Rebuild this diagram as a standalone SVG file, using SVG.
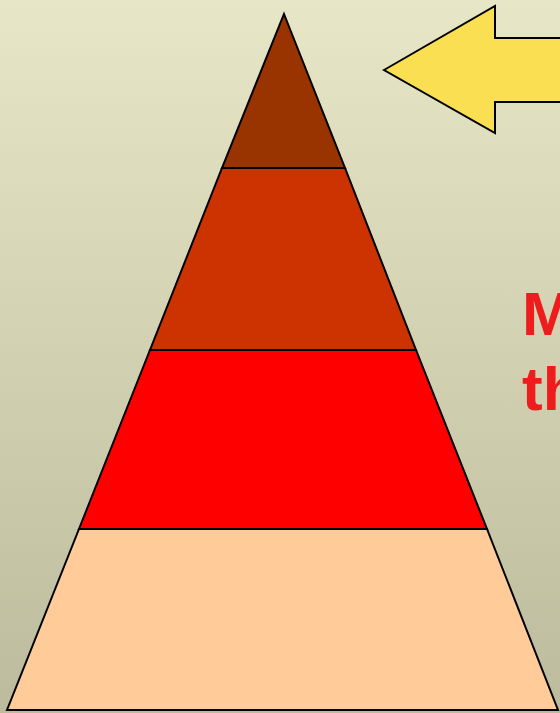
<svg xmlns="http://www.w3.org/2000/svg" width="560" height="713" viewBox="0 0 560 713">
  <defs>
    <linearGradient id="bg" x1="0" y1="0" x2="0" y2="1">
      <stop offset="0" stop-color="#e7e6c6"/>
      <stop offset="1" stop-color="#bcbb9d"/>
    </linearGradient>
  </defs>
  <style>
    .layer { stroke: #000; stroke-width: 2; stroke-linejoin: miter; }
    .label { font-family: "Liberation Sans", Arial, sans-serif; font-weight: bold; font-size: 62px; fill: #ee1c1c; }
  </style>
  <rect x="0" y="0" width="560" height="713" fill="url(#bg)"/>
  <g id="pyramid">
    <g id="layer-bottom"><polygon class="layer" fill="#ffcc99" points="79,529 487,529 558,710 7,710"/></g>
    <g id="layer-3"><polygon class="layer" fill="#ff0000" points="150,350 416,350 487,529 79,529"/></g>
    <g id="layer-2"><polygon class="layer" fill="#cc3300" points="222,168 345,168 416,350 150,350"/></g>
    <g id="layer-top"><polygon class="layer" fill="#993300" points="284,14 345,168 222,168"/></g>
  </g>
  <g id="arrow">
    <polygon class="layer" fill="#fbdf52" points="384,70 495,6 495,38 562,38 562,102 495,102 495,133"/>
  </g>
  <g id="label">
    <text class="label" x="522" y="335">M</text>
    <text class="label" x="522" y="410">th</text>
  </g>
</svg>
